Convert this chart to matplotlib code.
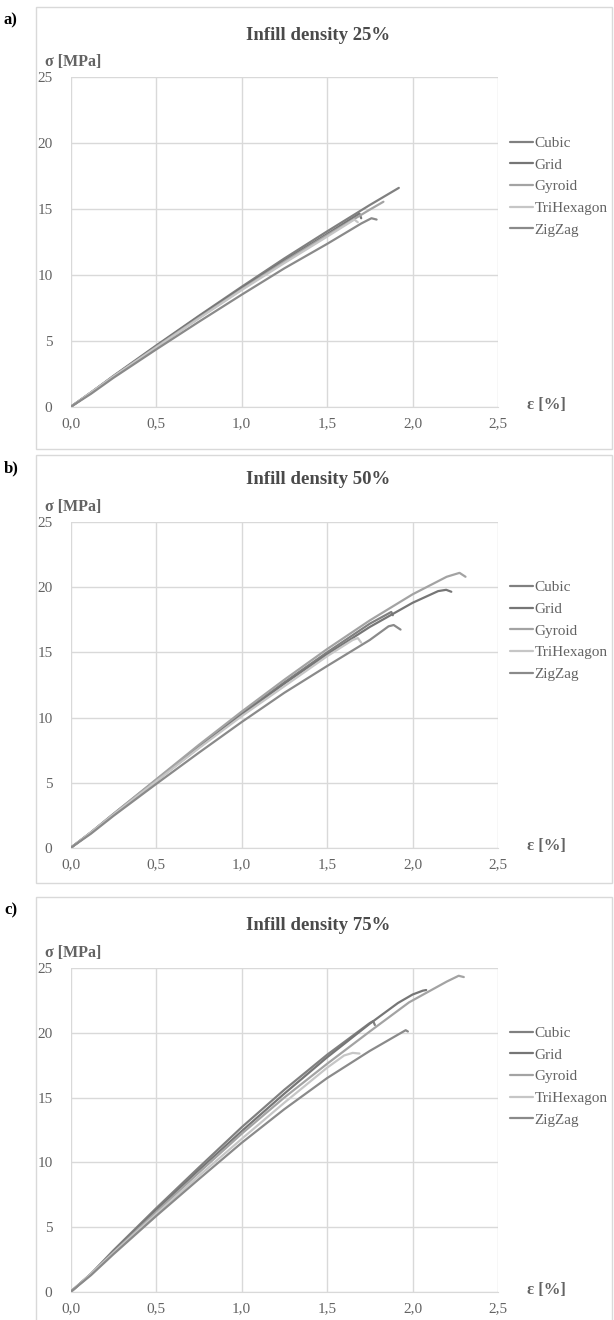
import matplotlib
matplotlib.use("Agg")
import matplotlib.pyplot as plt
from matplotlib.patches import Rectangle

W, H = 614, 1320
DPI = 100

series_names = ["Cubic", "Grid", "Gyroid", "TriHexagon", "ZigZag"]
series_colors = ["#808080", "#767676", "#a3a3a3", "#c6c6c6", "#8a8a8a"]

# ---- Infill density 25 % ----
strain_25 = {
    "Cubic":      [0, 0.12, 0.25, 0.5, 0.75, 1.0, 1.25, 1.5, 1.75, 1.92],
    "Grid":       [0, 0.12, 0.25, 0.5, 0.75, 1.0, 1.25, 1.5, 1.69, 1.70],
    "Gyroid":     [0, 0.12, 0.25, 0.5, 0.75, 1.0, 1.25, 1.5, 1.75, 1.83],
    "TriHexagon": [0, 0.12, 0.25, 0.5, 0.75, 1.0, 1.25, 1.5, 1.66, 1.68],
    "ZigZag":     [0, 0.12, 0.25, 0.5, 0.75, 1.0, 1.25, 1.5, 1.70, 1.76, 1.79],
}
stress_25 = {
    "Cubic":      [0, 1.1, 2.35, 4.65, 6.9, 9.1, 11.25, 13.3, 15.3, 16.6],
    "Grid":       [0, 1.1, 2.3, 4.6, 6.85, 9.0, 11.1, 13.1, 14.65, 14.3],
    "Gyroid":     [0, 1.1, 2.3, 4.55, 6.75, 8.9, 11.0, 13.0, 14.95, 15.55],
    "TriHexagon": [0, 1.1, 2.3, 4.5, 6.7, 8.85, 10.9, 12.9, 14.2, 14.0],
    "ZigZag":     [0, 1.0, 2.2, 4.35, 6.45, 8.5, 10.5, 12.35, 13.9, 14.3, 14.2],
}

# ---- Infill density 50 % ----
strain_50 = {
    "Cubic":      [0, 0.12, 0.25, 0.5, 0.75, 1.0, 1.25, 1.5, 1.75, 1.876, 1.885],
    "Grid":       [0, 0.12, 0.25, 0.5, 0.75, 1.0, 1.25, 1.5, 1.75, 2.0, 2.15, 2.197, 2.227],
    "Gyroid":     [0, 0.12, 0.25, 0.5, 0.75, 1.0, 1.25, 1.5, 1.75, 2.0, 2.2, 2.275, 2.31],
    "TriHexagon": [0, 0.12, 0.25, 0.5, 0.75, 1.0, 1.25, 1.5, 1.65, 1.68, 1.70],
    "ZigZag":     [0, 0.12, 0.25, 0.5, 0.75, 1.0, 1.25, 1.5, 1.75, 1.86, 1.89, 1.93],
}
stress_50 = {
    "Cubic":      [0, 1.2, 2.6, 5.2, 7.8, 10.3, 12.7, 15.0, 17.2, 18.1, 17.85],
    "Grid":       [0, 1.2, 2.55, 5.15, 7.7, 10.2, 12.6, 14.85, 16.95, 18.8, 19.7, 19.8, 19.65],
    "Gyroid":     [0, 1.2, 2.6, 5.25, 7.9, 10.45, 12.9, 15.25, 17.45, 19.45, 20.8, 21.1, 20.8],
    "TriHexagon": [0, 1.2, 2.55, 5.1, 7.65, 10.1, 12.4, 14.7, 15.95, 16.1, 15.75],
    "ZigZag":     [0, 1.1, 2.45, 4.9, 7.3, 9.65, 11.9, 13.95, 15.95, 17.0, 17.1, 16.75],
}

# ---- Infill density 75 % ----
strain_75 = {
    "Cubic":      [0, 0.12, 0.25, 0.5, 0.75, 1.0, 1.25, 1.5, 1.75, 1.77, 1.78],
    "Grid":       [0, 0.12, 0.25, 0.5, 0.75, 1.0, 1.25, 1.5, 1.75, 1.915, 2.0, 2.06, 2.08],
    "Gyroid":     [0, 0.12, 0.25, 0.5, 0.75, 1.0, 1.25, 1.5, 1.75, 1.98, 2.2, 2.27, 2.30],
    "TriHexagon": [0, 0.12, 0.25, 0.5, 0.75, 1.0, 1.25, 1.5, 1.6, 1.65, 1.69],
    "ZigZag":     [0, 0.12, 0.25, 0.5, 0.75, 1.0, 1.25, 1.5, 1.75, 1.96, 1.973],
}
stress_75 = {
    "Cubic":      [0, 1.4, 3.2, 6.45, 9.6, 12.7, 15.6, 18.3, 20.75, 20.9, 20.6],
    "Grid":       [0, 1.4, 3.1, 6.3, 9.4, 12.4, 15.3, 18.1, 20.7, 22.3, 22.95, 23.25, 23.3],
    "Gyroid":     [0, 1.4, 3.05, 6.15, 9.2, 12.2, 15.0, 17.6, 20.1, 22.35, 23.95, 24.4, 24.3],
    "TriHexagon": [0, 1.4, 3.0, 6.0, 8.95, 11.8, 14.6, 17.3, 18.25, 18.45, 18.4],
    "ZigZag":     [0, 1.3, 2.9, 5.85, 8.7, 11.5, 14.1, 16.5, 18.6, 20.2, 20.1],
}

panels = [
    ("a)", "Infill density 25%", strain_25, stress_25),
    ("b)", "Infill density 50%", strain_50, stress_50),
    ("c)", "Infill density 75%", strain_75, stress_75),
]

x_ticks = [0.0, 0.5, 1.0, 1.5, 2.0, 2.5]
x_tick_labels = ["0,0", "0,5", "1,0", "1,5", "2,0", "2,5"]
y_ticks = [0, 5, 10, 15, 20, 25]

# pixel layout (from the top of the figure)
frames = [(7, 449), (455, 883), (897, 1330)]
axes_tb = [(77, 407), (522, 848), (968, 1292)]
ax_left, ax_right = 70.5, 498
frame_left, frame_right = 36, 612

serif = ["Liberation Serif", "DejaVu Serif"]
text_gray = "#636363"
grid_gray = "#d9d9d9"

fig = plt.figure(figsize=(W / DPI, H / DPI), dpi=DPI)
fig.patch.set_facecolor("white")


def fx(px):
    return px / W


def fy(py):
    return 1 - py / H


for (tag, title, strains, stresses), (ftop, fbot), (atop, abot) in zip(panels, frames, axes_tb):
    # panel border
    fig.patches.append(Rectangle((fx(frame_left), fy(fbot)), fx(frame_right - frame_left),
                                 (fbot - ftop) / H, transform=fig.transFigure,
                                 fill=False, edgecolor=grid_gray, linewidth=1.0))
    ax = fig.add_axes([fx(ax_left), fy(abot), fx(ax_right - ax_left), (abot - atop) / H])
    for name, color in zip(series_names, series_colors):
        ax.plot(strains[name], stresses[name], color=color, linewidth=1.6,
                label=name, solid_capstyle="round", solid_joinstyle="round")
    ax.set_xlim(0, 2.5)
    ax.set_ylim(0, 25)
    ax.set_xticks(x_ticks)
    ax.set_xticklabels(x_tick_labels)
    ax.set_yticks(y_ticks)
    ax.grid(True, color=grid_gray, linewidth=1.0)
    ax.set_axisbelow(True)
    for side in ["top", "right", "left"]:
        ax.spines[side].set_visible(False)
    ax.spines["bottom"].set_color(grid_gray)
    ax.tick_params(length=0, labelsize=11, labelcolor=text_gray, pad=7)
    for lbl in ax.get_xticklabels() + ax.get_yticklabels():
        lbl.set_fontfamily(serif)
    ax.tick_params(axis="y", pad=13)

    leg = ax.legend(loc="upper left", bbox_to_anchor=(1.028, 0.82), frameon=False,
                    prop={"family": serif, "size": 11}, handlelength=1.5,
                    handletextpad=0.1, labelspacing=0.52, borderpad=0, borderaxespad=0)
    for t in leg.get_texts():
        t.set_color(text_gray)

    fig.text(fx(318), fy(atop - 42), title, ha="center", va="center",
             family=serif, fontsize=13.5, color="#4a4a4a", fontweight="bold")
    fig.text(fx(45), fy(atop - 15), "σ [MPa]", ha="left", va="center",
             family=serif, fontsize=11.5, color=text_gray, fontweight="bold")
    fig.text(fx(527), fy(abot - 2), "ε [%]", ha="left", va="center",
             family=serif, fontsize=12, color=text_gray, fontweight="bold")
    fig.text(fx(4), fy(ftop + 13), tag, ha="left", va="center",
             family=serif, fontsize=12, color="black", fontweight="bold")

fig.savefig("out.png", dpi=DPI, facecolor="white")
